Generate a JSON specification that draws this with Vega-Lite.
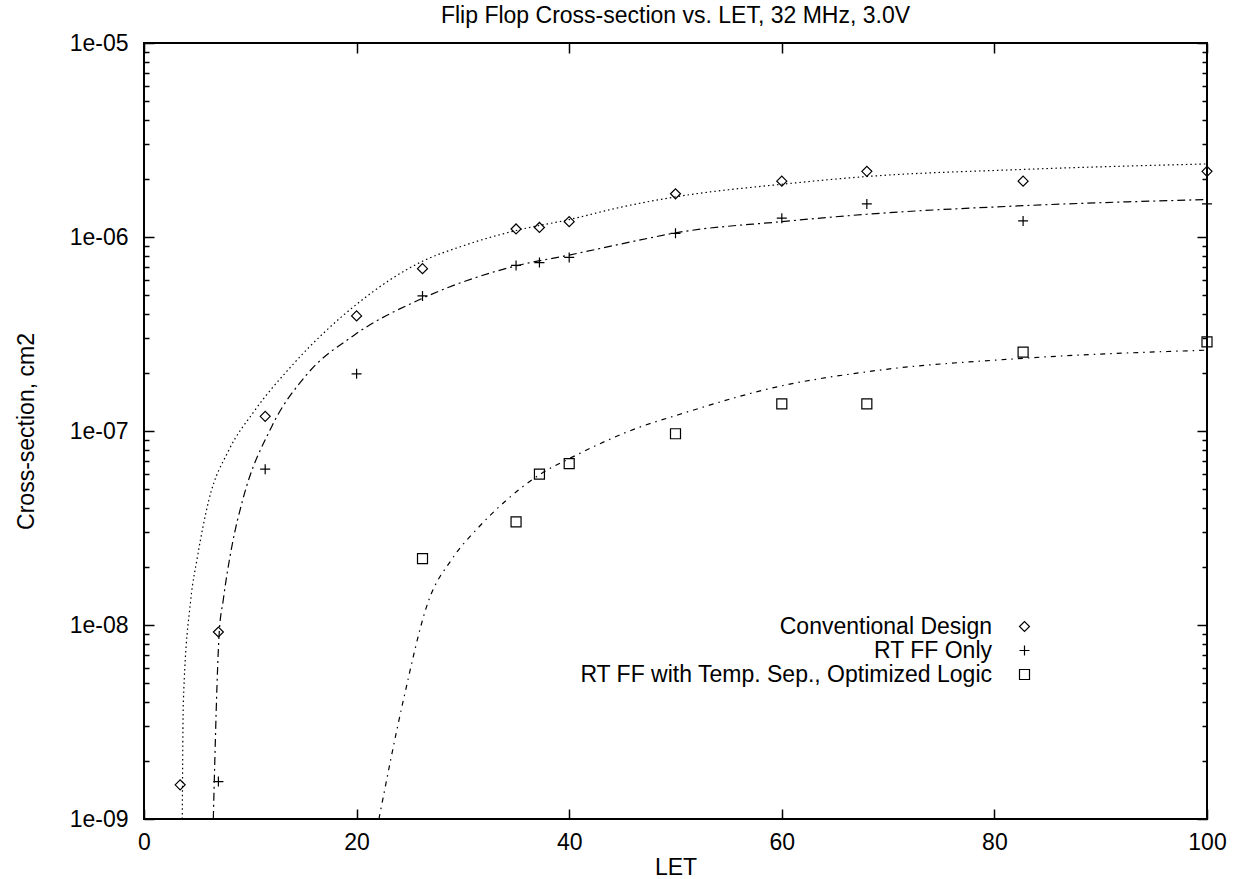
{
  "$schema": "https://vega.github.io/schema/vega-lite/v6.json",
  "width": 1063,
  "height": 776,
  "autosize": "none",
  "padding": {"left": 144, "top": 43, "right": 29, "bottom": 60},
  "background": "white",
  "config": {
    "view": {"stroke": "black", "strokeWidth": 2},
    "font": "Liberation Sans",
    "axis": {"grid": false, "domain": false, "labelColor": "black", "titleColor": "black", "tickColor": "black", "labelFont": "Liberation Sans", "titleFont": "Liberation Sans"}
  },
  "title": {"text": "Flip Flop Cross-section vs. LET, 32 MHz, 3.0V", "fontSize": 23, "fontWeight": "normal", "font": "Liberation Sans", "color": "black", "offset": 4},
  "datasets": {
    "points": [
      {"series": "Conventional Design", "LET": 3.4, "sigma": 1.5e-9},
      {"series": "Conventional Design", "LET": 7.0, "sigma": 9.2e-9},
      {"series": "Conventional Design", "LET": 11.4, "sigma": 1.19e-7},
      {"series": "Conventional Design", "LET": 20.0, "sigma": 3.92e-7},
      {"series": "Conventional Design", "LET": 26.2, "sigma": 6.87e-7},
      {"series": "Conventional Design", "LET": 35.0, "sigma": 1.10e-6},
      {"series": "Conventional Design", "LET": 37.2, "sigma": 1.12e-6},
      {"series": "Conventional Design", "LET": 40.0, "sigma": 1.20e-6},
      {"series": "Conventional Design", "LET": 50.0, "sigma": 1.67e-6},
      {"series": "Conventional Design", "LET": 60.0, "sigma": 1.94e-6},
      {"series": "Conventional Design", "LET": 68.0, "sigma": 2.18e-6},
      {"series": "Conventional Design", "LET": 82.7, "sigma": 1.94e-6},
      {"series": "Conventional Design", "LET": 100.0, "sigma": 2.18e-6},
      {"series": "RT FF Only", "LET": 7.0, "sigma": 1.56e-9},
      {"series": "RT FF Only", "LET": 11.4, "sigma": 6.36e-8},
      {"series": "RT FF Only", "LET": 20.0, "sigma": 1.97e-7},
      {"series": "RT FF Only", "LET": 26.2, "sigma": 4.97e-7},
      {"series": "RT FF Only", "LET": 35.0, "sigma": 7.14e-7},
      {"series": "RT FF Only", "LET": 37.2, "sigma": 7.38e-7},
      {"series": "RT FF Only", "LET": 40.0, "sigma": 7.85e-7},
      {"series": "RT FF Only", "LET": 50.0, "sigma": 1.045e-6},
      {"series": "RT FF Only", "LET": 60.0, "sigma": 1.25e-6},
      {"series": "RT FF Only", "LET": 68.0, "sigma": 1.48e-6},
      {"series": "RT FF Only", "LET": 82.7, "sigma": 1.21e-6},
      {"series": "RT FF Only", "LET": 100.0, "sigma": 1.48e-6},
      {"series": "RT FF with Temp. Sep., Optimized Logic", "LET": 26.2, "sigma": 2.2e-8},
      {"series": "RT FF with Temp. Sep., Optimized Logic", "LET": 35.0, "sigma": 3.4e-8},
      {"series": "RT FF with Temp. Sep., Optimized Logic", "LET": 37.2, "sigma": 6.0e-8},
      {"series": "RT FF with Temp. Sep., Optimized Logic", "LET": 40.0, "sigma": 6.79e-8},
      {"series": "RT FF with Temp. Sep., Optimized Logic", "LET": 50.0, "sigma": 9.68e-8},
      {"series": "RT FF with Temp. Sep., Optimized Logic", "LET": 60.0, "sigma": 1.38e-7},
      {"series": "RT FF with Temp. Sep., Optimized Logic", "LET": 68.0, "sigma": 1.38e-7},
      {"series": "RT FF with Temp. Sep., Optimized Logic", "LET": 82.7, "sigma": 2.55e-7},
      {"series": "RT FF with Temp. Sep., Optimized Logic", "LET": 100.0, "sigma": 2.88e-7}
    ],
    "fit1": [
      {"LET": 3.6, "sigma": 1e-9},
      {"LET": 3.7, "sigma": 4.0e-9},
      {"LET": 4.4, "sigma": 1.35e-8},
      {"LET": 5.0, "sigma": 2.2e-8},
      {"LET": 6.1, "sigma": 4.4e-8},
      {"LET": 8.0, "sigma": 8.0e-8},
      {"LET": 10.3, "sigma": 1.25e-7},
      {"LET": 14.0, "sigma": 2.2e-7},
      {"LET": 20.0, "sigma": 4.5e-7},
      {"LET": 26.2, "sigma": 7.5e-7},
      {"LET": 30.0, "sigma": 9.0e-7},
      {"LET": 35.0, "sigma": 1.08e-6},
      {"LET": 40.0, "sigma": 1.23e-6},
      {"LET": 45.0, "sigma": 1.43e-6},
      {"LET": 50.0, "sigma": 1.61e-6},
      {"LET": 60.0, "sigma": 1.87e-6},
      {"LET": 68.0, "sigma": 2.05e-6},
      {"LET": 82.7, "sigma": 2.23e-6},
      {"LET": 100.0, "sigma": 2.38e-6}
    ],
    "fit2": [
      {"LET": 6.52, "sigma": 1e-9},
      {"LET": 7.07, "sigma": 9.0e-9},
      {"LET": 7.46, "sigma": 1.35e-8},
      {"LET": 8.3, "sigma": 2.6e-8},
      {"LET": 9.28, "sigma": 4.4e-8},
      {"LET": 12.0, "sigma": 1.05e-7},
      {"LET": 15.3, "sigma": 1.95e-7},
      {"LET": 19.7, "sigma": 3.1e-7},
      {"LET": 26.2, "sigma": 4.83e-7},
      {"LET": 35.0, "sigma": 7.1e-7},
      {"LET": 40.0, "sigma": 8.07e-7},
      {"LET": 46.7, "sigma": 9.66e-7},
      {"LET": 50.0, "sigma": 1.05e-6},
      {"LET": 60.0, "sigma": 1.2e-6},
      {"LET": 68.0, "sigma": 1.31e-6},
      {"LET": 82.7, "sigma": 1.45e-6},
      {"LET": 100.0, "sigma": 1.56e-6}
    ],
    "fit3": [
      {"LET": 22.1, "sigma": 1e-9},
      {"LET": 24.4, "sigma": 4.1e-9},
      {"LET": 26.7, "sigma": 1.3e-8},
      {"LET": 29.0, "sigma": 2.2e-8},
      {"LET": 31.5, "sigma": 3.2e-8},
      {"LET": 34.1, "sigma": 4.4e-8},
      {"LET": 37.3, "sigma": 6.0e-8},
      {"LET": 40.0, "sigma": 7.2e-8},
      {"LET": 46.7, "sigma": 1.05e-7},
      {"LET": 50.0, "sigma": 1.2e-7},
      {"LET": 60.0, "sigma": 1.71e-7},
      {"LET": 68.0, "sigma": 2.02e-7},
      {"LET": 82.7, "sigma": 2.37e-7},
      {"LET": 100.0, "sigma": 2.61e-7}
    ]
  },
  "layer": [
    {
      "data": {"name": "fit1"},
      "mark": {"type": "line", "color": "black", "strokeWidth": 1.2, "strokeDash": [1.5, 3], "clip": true, "interpolate": "monotone"},
      "encoding": {
        "x": {"field": "LET", "type": "quantitative", "scale": {"domain": [0, 100], "nice": false, "zero": false},
          "axis": {"orient": "bottom", "labels": false, "title": null, "values": [0, 20, 40, 60, 80, 100], "tickSize": -10, "tickWidth": 1.5}},
        "y": {"field": "sigma", "type": "quantitative", "scale": {"type": "log", "domain": [1e-9, 1e-5], "nice": false},
          "axis": {"orient": "left", "labels": false, "title": null, "tickWidth": 1.5,
            "values": [1e-9,2e-9,3e-9,4e-9,5e-9,6e-9,7e-9,8e-9,9e-9,1e-8,2e-8,3e-8,4e-8,5e-8,6e-8,7e-8,8e-8,9e-8,1e-7,2e-7,3e-7,4e-7,5e-7,6e-7,7e-7,8e-7,9e-7,1e-6,2e-6,3e-6,4e-6,5e-6,6e-6,7e-6,8e-6,9e-6,1e-5],
            "tickSize": {"condition": {"test": "abs(log(datum.value)/LN10 - round(log(datum.value)/LN10)) < 0.01", "value": -10}, "value": -5}}}
      }
    },
    {
      "data": {"name": "fit2"},
      "mark": {"type": "line", "color": "black", "strokeWidth": 1.2, "strokeDash": [8, 4, 2, 4], "clip": true, "interpolate": "monotone"},
      "encoding": {
        "x": {"field": "LET", "type": "quantitative", "scale": {"domain": [0, 100], "nice": false, "zero": false},
          "axis": {"orient": "top", "labels": false, "title": null, "values": [0, 20, 40, 60, 80, 100], "tickSize": -10, "tickWidth": 1.5}},
        "y": {"field": "sigma", "type": "quantitative", "scale": {"type": "log", "domain": [1e-9, 1e-5], "nice": false},
          "axis": {"orient": "right", "labels": false, "title": null, "tickWidth": 1.5,
            "values": [1e-9,2e-9,3e-9,4e-9,5e-9,6e-9,7e-9,8e-9,9e-9,1e-8,2e-8,3e-8,4e-8,5e-8,6e-8,7e-8,8e-8,9e-8,1e-7,2e-7,3e-7,4e-7,5e-7,6e-7,7e-7,8e-7,9e-7,1e-6,2e-6,3e-6,4e-6,5e-6,6e-6,7e-6,8e-6,9e-6,1e-5],
            "tickSize": {"condition": {"test": "abs(log(datum.value)/LN10 - round(log(datum.value)/LN10)) < 0.01", "value": -10}, "value": -5}}}
      }
    },
    {
      "data": {"name": "fit3"},
      "mark": {"type": "line", "color": "black", "strokeWidth": 1.2, "strokeDash": [5, 5, 1.5, 5], "clip": true, "interpolate": "monotone"},
      "encoding": {
        "x": {"field": "LET", "type": "quantitative", "scale": {"domain": [0, 100], "nice": false, "zero": false}, "axis": null},
        "y": {"field": "sigma", "type": "quantitative", "scale": {"type": "log", "domain": [1e-9, 1e-5], "nice": false}, "axis": null}
      }
    },
    {
      "data": {"name": "points"},
      "mark": {"type": "point", "filled": false, "color": "black", "strokeWidth": 1.2, "opacity": 1},
      "encoding": {
        "x": {"field": "LET", "type": "quantitative", "scale": {"domain": [0, 100], "nice": false, "zero": false},
          "axis": {"orient": "bottom", "ticks": false, "values": [0, 20, 40, 60, 80, 100], "labelFontSize": 23, "labelPadding": 12, "labelFlush": false,
            "title": "LET", "titleFontSize": 23, "titleFontWeight": "normal", "titlePadding": 2}},
        "y": {"field": "sigma", "type": "quantitative", "scale": {"type": "log", "domain": [1e-9, 1e-5], "nice": false},
          "axis": {"orient": "left", "ticks": false, "values": [1e-9, 1e-8, 1e-7, 1e-6, 1e-5],
            "labelExpr": "'1e-0' + round(-log(datum.value)/LN10)", "labelFontSize": 23, "labelPadding": 16,
            "title": "Cross-section, cm2", "titleFontSize": 23, "titleFontWeight": "normal", "titlePadding": 31}},
        "shape": {"field": "series", "type": "nominal",
          "scale": {"domain": ["Conventional Design", "RT FF Only", "RT FF with Temp. Sep., Optimized Logic"],
            "range": ["diamond", "M-1,0H1M0,-1V1", "square"]},
          "legend": {"orient": "none", "legendX": 869, "legendY": 572, "title": null, "padding": 0, "rowPadding": 0,
            "labelFontSize": 23, "labelFont": "Liberation Sans", "labelColor": "black", "labelAlign": "right", "labelOffset": -44, "labelLimit": 700,
            "symbolSize": 100, "symbolStrokeWidth": 1.2, "symbolStrokeColor": "black", "symbolFillColor": "transparent"}},
        "size": {"value": 100}
      }
    }
  ],
  "resolve": {"axis": {"x": "independent", "y": "independent"}}
}
